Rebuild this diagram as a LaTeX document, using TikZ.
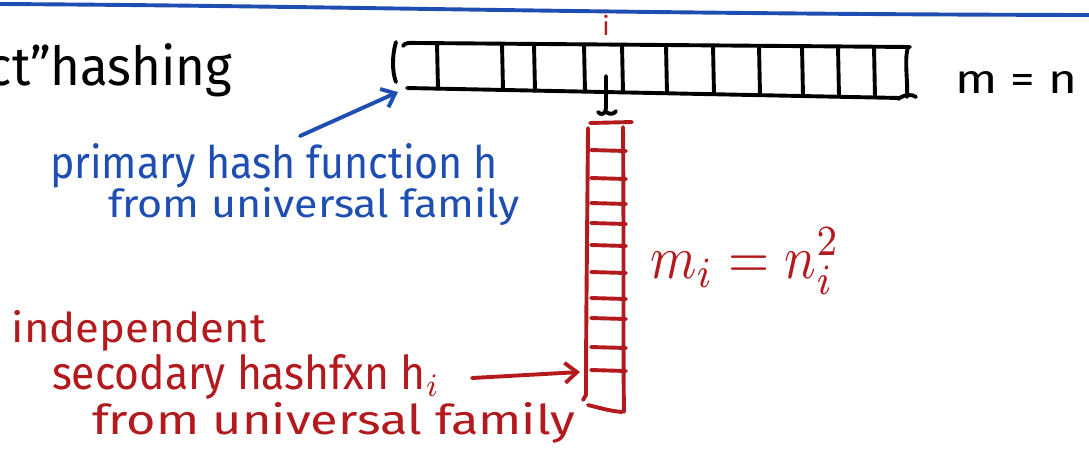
\documentclass[tikz,border=0pt]{standalone}
\usepackage{fontspec}
\setmainfont{Fira Sans}
\usetikzlibrary{arrows.meta}
\definecolor{inkblue}{RGB}{30,78,178}
\definecolor{inkred}{RGB}{178,26,30}
\newcommand\fitwh[3]{\resizebox{#1}{#2}{#3}}
\begin{document}
\begin{tikzpicture}[x=1pt,y=-1pt,
  ink/.style={line width=3.9pt,line cap=round,line join=round},
  lbl/.style={inner sep=0pt,outer sep=0pt,anchor=base west},
  barb/.style={-{Straight Barb[length=12pt,width=20pt]}}]
\useasboundingbox (0,0) rectangle (1089,451);

% top blue rule
\draw[ink,inkblue] (0,4) .. controls (350,6) and (600,14) .. (1089,15);

% title
\node[lbl] (title) at (-12,85) {\fitwh{244pt}{42pt}{ct''hashing}};

% primary table
\begin{scope}[ink,black]
\draw (396,42) .. controls (392,55) and (392,72) .. (396,82);
\draw (403,46) .. controls (405,42) and (410,43) .. (420,43) -- (910,47);
\draw (407,88) -- (900,98);
\foreach \x in {437,502,534,584,622,666,713,759,802,838,874}{
  \draw (\x,{43+(\x-405)*4/505}) -- (\x+1,{88+(\x-407)*10/493});
}
\draw (908,47) .. controls (904,60) and (908,80) .. (907,97);
\draw (898,99) .. controls (905,94) and (912,94) .. (916,97);
\draw (606,76) -- (606,108) .. controls (606,114) and (601,116) .. (598,112);
\draw (606,112) .. controls (610,115) and (614,114) .. (616,111);
\end{scope}
\node[inkred,inner sep=0pt] (ilab) at (606,25) {\fontsize{26}{28}\selectfont i};

% m = n
\node[lbl] (mn) at (955,93) {\fitwh{122pt}{22pt}{m = n}};

% secondary table
\begin{scope}[ink,inkred]
\draw (590,123) -- (632,122);
\draw (588,128) .. controls (587,250) and (586,330) .. (586,395) -- (583,400);
\draw (623,127) .. controls (624,250) and (623,350) .. (624,412);
\draw (588,405) .. controls (600,408) and (610,411) .. (622,412);
\foreach \y in {150,178,203,223,245,272,298,318,347,370}{
  \draw (591,\y) -- (626,\y+1);
}
\end{scope}

% m_i = n_i^2
\node[lbl,inkred] (mi) at (650,278) {\fitwh{190pt}{50pt}{$m_i=n_i^2$}};

% blue labels
\node[lbl,inkblue] (p1) at (50,178) {\fitwh{448pt}{35pt}{primary hash function h}};
\node[lbl,inkblue] (p2) at (108,217) {\fitwh{412pt}{30pt}{from universal family}};
\coordinate (bstart) at (300,136);
\coordinate (ptab) at (398,92);
\draw[ink,inkblue,barb] (bstart) -- (ptab);

% red labels
\node[lbl,inkred] (r1) at (12,342) {\fitwh{254pt}{32pt}{independent}};
\node[lbl,inkred] (r2) at (52,389) {\fitwh{388pt}{35pt}{secodary hashfxn h$_i$}};
\node[lbl,inkred] (r3) at (92,434) {\fitwh{483pt}{32pt}{from universal family}};
\coordinate (rstart) at (472,378);
\coordinate (stab) at (580,372);
\draw[ink,inkred,barb] (rstart) -- (stab);
\end{tikzpicture}
\end{document}
